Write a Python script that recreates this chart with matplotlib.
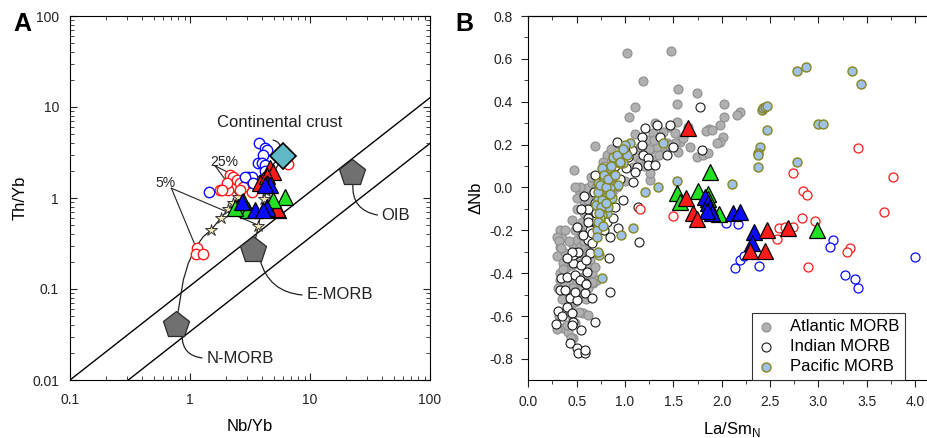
import matplotlib
matplotlib.use("Agg")
import matplotlib.pyplot as plt
from matplotlib.ticker import FuncFormatter, MultipleLocator, NullFormatter

plt.rcParams['font.family'] = ['Liberation Sans', 'DejaVu Sans']
plt.rcParams['axes.unicode_minus'] = False

# ---------------- panel A data (Nb/Yb vs Th/Yb) ----------------
ref_names = ['N-MORB', 'E-MORB', 'OIB']
ref_nb = [0.77, 3.37, 22.2]
ref_th = [0.040, 0.268, 1.87]
cc_nb, cc_th = 6.0, 2.9

a_red_circ_x = [1.14, 1.12, 1.28, 1.78, 2.08, 2.15, 2.3, 2.46, 2.62, 2.02, 2.78, 1.84, 2.62, 3.27, 6.6]
a_red_circ_y = [0.28, 0.24, 0.24, 1.22, 1.22, 1.79, 1.71, 1.58, 1.45, 1.45, 1.33, 1.22, 1.22, 1.17, 2.35]
a_blue_circ_x = [3.76, 4.22, 4.36, 4.08, 3.71, 3.96, 4.22, 3.06, 3.27, 2.87, 1.44, 4.22, 3.37]
a_blue_circ_y = [3.99, 3.52, 3.37, 2.97, 2.40, 2.40, 2.31, 1.71, 1.71, 1.71, 1.17, 1.97, 1.45]
a_red_tri_x = [4.64, 4.95, 4.08, 3.83, 5.44, 5.27, 4.4]
a_red_tri_y = [2.12, 1.94, 1.58, 1.45, 0.74, 0.76, 1.75]
a_green_tri_x = [2.53, 3.06, 6.19, 4.36, 2.37, 2.78, 4.95]
a_green_tri_y = [0.80, 0.74, 1.02, 0.80, 0.77, 0.92, 0.95]
a_blue_tri_x = [4.36, 4.64, 2.7, 3.48, 4.36, 4.22, 4.08]
a_blue_tri_y = [1.45, 1.39, 0.91, 0.74, 0.77, 1.39, 0.74]

# mixing curves towards continental crust
mix1_x = [0.775, 0.826, 0.88, 0.968, 1.10, 1.29, 1.50, 1.80, 2.09, 2.30, 2.53, 3.0, 3.8, 4.8, 6.0]
mix1_y = [0.0456, 0.0757, 0.126, 0.191, 0.28, 0.376, 0.445, 0.60, 0.76, 0.875, 1.02, 1.3, 1.75, 2.3, 2.9]
mix2_x = [3.37, 3.55, 3.71, 3.95, 4.14, 4.3, 4.7, 5.3, 6.0]
mix2_y = [0.268, 0.38, 0.49, 0.75, 0.97, 1.2, 1.6, 2.2, 2.9]
star_x = [1.50, 1.80, 2.09, 2.30, 2.53, 3.71, 4.14, 4.3]
star_y = [0.445, 0.60, 0.76, 0.875, 1.02, 0.49, 0.97, 1.2]

# ---------------- panel B data (La/Sm_N vs delta Nb) ----------------
atl_x = [1.017, 1.472, 1.183, 1.552, 1.741, 1.541, 2.024, 1.103, 1.045, 2.024, 2.19, 2.155, 1.983,
         1.872, 1.838, 1.897, 2.017, 1.983, 1.948, 1.534, 1.466, 1.517, 1.569, 1.672, 1.552, 1.741,
         1.81, 1.862, 1.517, 1.362, 1.397, 1.293, 1.31,
         0.69, 0.472, 0.517, 0.534, 0.552, 0.569, 0.603, 0.655, 0.638, 0.672, 0.328, 0.345, 0.328,
         0.38, 0.397, 0.414, 0.466, 0.5, 0.534, 0.552, 0.586, 0.586, 0.603, 0.638, 0.655, 0.672,
         0.569, 0.517, 0.483, 0.431, 0.362, 0.414, 0.466, 0.569, 0.62, 0.362, 0.31, 0.328, 0.362,
         0.724, 0.69, 0.707, 0.672, 0.707, 0.741, 0.62, 0.552, 0.534, 0.862, 0.914, 0.879, 0.81,
         0.776, 0.983, 1.086, 1.121, 1.19, 1.259, 1.224, 1.155, 1.259, 1.259, 1.293, 1.431, 1.414,
         1.328, 0.672, 0.655, 0.534, 0.45, 0.42, 0.6, 0.64, 0.5, 0.44, 0.56, 0.62, 0.58, 0.7,
         0.30, 0.32, 0.34, 0.30, 0.36, 0.33, 0.38, 0.40, 0.35, 0.42, 0.45, 0.40, 0.48, 0.52, 0.55,
         0.58, 0.60, 0.62, 0.65, 0.58, 0.55, 0.48, 0.45, 0.50, 0.58, 0.62, 0.48, 0.50, 0.65, 0.70,
         0.55, 0.45, 0.42, 0.38, 0.60, 0.32, 0.30, 0.44, 0.46, 0.66,
         0.78, 0.85, 0.90, 0.95, 1.05, 1.15, 1.20, 1.35, 1.45, 1.25, 1.10, 1.30, 1.60, 1.65, 0.88, 1.00]
atl_y = [0.629, 0.637, 0.498, 0.458, 0.439, 0.388, 0.388, 0.377, 0.330, 0.327, 0.354, 0.338, 0.292,
         0.271, 0.264, 0.268, 0.237, 0.214, 0.206, 0.307, 0.284, 0.253, 0.214, 0.19, 0.167, 0.144,
         0.152, 0.159, 0.206, 0.237, 0.261, 0.253, 0.30,
         0.195, 0.08, -0.004, -0.019, -0.043, -0.058, -0.004, 0.02, -0.089, -0.12, -0.198, -0.237, -0.276,
         -0.307, -0.369, -0.338, -0.268, -0.245, -0.276, -0.307, -0.276, -0.338, -0.385, -0.338, -0.40, -0.447,
         -0.416, -0.463, -0.532, -0.587, -0.657, -0.672, -0.703, -0.587, -0.595, -0.493, -0.47, -0.40, -0.354,
         -0.307, -0.369, -0.431, -0.245, -0.183, -0.12, -0.167, -0.159, -0.198, -0.027, 0.004, 0.128, 0.152,
         0.121, 0.144, 0.097, 0.144, 0.159, 0.175, 0.222, 0.19, 0.035, 0.066, 0.128, 0.206, 0.159,
         0.19, -0.027, -0.058, 0.004, -0.36, -0.45, -0.22, -0.26, -0.42, -0.55, -0.50, -0.47, -0.10, -0.05,
         -0.23, -0.25, -0.28, -0.32, -0.38, -0.43, -0.45, -0.50, -0.52, -0.55, -0.60, -0.64, -0.63, -0.58, -0.48,
         -0.42, -0.36, -0.30, -0.25, -0.25, -0.22, -0.20, -0.15, -0.10, -0.12, -0.06, 0.00, -0.05, 0.05, 0.00,
         -0.35, -0.33, -0.25, -0.20, -0.52, -0.60, -0.66, -0.70, -0.47, -0.44,
         0.10, 0.18, 0.05, 0.20, 0.18, 0.12, 0.10, 0.15, 0.20, 0.18, 0.25, 0.22, 0.23, 0.28, 0.00, 0.03]

ind_x = [0.283, 0.31, 0.328, 0.338, 0.397, 0.38, 0.43, 0.397, 0.448, 0.466, 0.448, 0.43, 0.5, 0.517,
         0.586, 0.586, 0.55, 0.5, 0.483, 0.483, 0.466, 0.5, 0.466, 0.517, 0.5, 0.586, 0.586, 0.655,
         0.603, 0.638, 0.62, 0.638, 0.672, 0.69, 0.69, 0.707, 0.62, 0.69, 0.845, 0.838, 0.845, 0.81,
         0.879, 0.931, 0.983, 0.897, 0.81, 0.914, 1.007, 1.034, 1.086, 1.069, 1.12, 1.172, 1.207,
         1.172, 1.19, 1.241, 1.241, 1.31, 1.328, 1.362, 1.431, 1.466, 1.5, 1.138, 1.148, 1.776, 1.793,
         0.55, 0.66, 0.6, 0.57, 0.75, 0.9, 0.95, 1.1, 1.0, 0.78, 0.62, 0.68,
         0.45, 0.55, 0.62, 0.66, 0.58, 0.70, 0.40, 0.53, 0.35, 0.60]
ind_y = [-0.637, -0.575, -0.478, -0.424, -0.419, -0.478, -0.517, -0.556, -0.587, -0.626, -0.64, -0.727,
         -0.75, -0.77, -0.773, -0.758, -0.665, -0.525, -0.486, -0.408, -0.354, -0.307, -0.315, -0.30,
         -0.183, -0.494, -0.447, -0.517, -0.393, -0.307, -0.245, -0.198, -0.151, -0.074, 0.058, -0.206,
         -0.144, -0.626, -0.486, -0.33, -0.229, -0.159, -0.144, -0.19, -0.058, -0.089, -0.058, 0.21,
         0.089, 0.144, 0.027, 0.175, 0.097, 0.237, 0.276, 0.198, 0.152, 0.136, 0.105, 0.105, 0.292,
         0.237, 0.152, 0.292, 0.19, -0.089, -0.253, 0.377, 0.175,
         -0.36, -0.26, -0.34, -0.22, 0.02, 0.1, 0.04, 0.07, 0.17, -0.2, -0.1, -0.02,
         -0.30, -0.10, -0.16, -0.21, -0.04, -0.12, -0.33, -0.43, -0.60, -0.45]

pac_x = [2.776, 2.869, 3.352, 3.438, 2.414, 2.43, 2.445, 2.466, 2.466, 3.0, 3.05, 2.397, 2.37, 2.38,
         2.37, 2.776, 2.103, 1.534, 1.345, 1.207, 1.39, 1.052, 1.0, 1.017, 0.976, 1.086, 0.959, 0.734,
         0.759, 0.714, 0.741, 0.81, 0.948, 0.897, 0.845, 0.759, 0.793, 0.862, 0.724, 0.776, 0.931,
         0.845, 0.741, 0.81, 0.724, 0.862, 0.793, 0.741, 0.828, 0.759, 0.741, 0.724, 0.7, 0.72, 0.9,
         0.72, 0.74, 0.76, 0.78, 0.80, 0.82, 0.84, 0.86, 0.88, 0.90, 0.92, 0.95, 0.98, 0.75, 0.73,
         0.77, 0.71, 0.80]
pac_y = [0.545, 0.564, 0.545, 0.481, 0.362, 0.37, 0.375, 0.38, 0.268, 0.296, 0.296, 0.19, 0.16, 0.15,
         0.097, 0.117, 0.015, 0.03, 0.004, -0.022, 0.206, 0.209, 0.198, 0.152, 0.113, -0.19, -0.221, -0.315,
         -0.424, -0.198, -0.151, -0.12, 0.113, 0.121, 0.089, 0.089, 0.051, 0.051, 0.02, 0.027, 0.012,
         -0.004, -0.019, -0.043, -0.058, -0.05, -0.074, -0.105, -0.089, -0.128, -0.144, -0.159, -0.08, -0.3, 0.14,
         -0.02, 0.01, -0.06, 0.06, 0.00, 0.04, -0.03, 0.10, 0.14, 0.06, 0.15, 0.12, 0.18, -0.09, -0.12,
         -0.18, -0.23, -0.07]

b_red_circ_x = [1.155, 1.5, 2.569, 2.597, 2.655, 2.707, 2.741, 2.828, 2.966, 2.897, 2.741, 2.845, 2.879,
                3.328, 3.3, 3.414, 3.776, 3.683]
b_red_circ_y = [-0.102, -0.133, -0.24, -0.187, -0.183, -0.187, -0.183, -0.141, -0.156, -0.372, 0.066,
                -0.015, -0.035, -0.284, -0.302, 0.183, 0.047, -0.116]
b_blue_circ_x = [2.041, 2.172, 2.138, 2.19, 2.234, 2.39, 3.148, 3.121, 3.276, 3.379, 3.414, 4.0]
b_blue_circ_y = [-0.164, -0.172, -0.374, -0.338, -0.318, -0.366, -0.245, -0.276, -0.41, -0.428, -0.47, -0.326]
b_red_tri_x = [1.648, 1.631, 1.707, 1.741, 2.466, 2.69, 2.293, 2.448]
b_red_tri_y = [0.276, -0.05, -0.117, -0.147, -0.2, -0.187, -0.295, -0.295]
b_green_tri_x = [1.534, 1.569, 1.752, 1.879, 1.862, 1.862, 1.972, 2.983]
b_green_tri_y = [-0.024, -0.066, -0.015, 0.071, -0.03, -0.055, -0.125, -0.198]
b_blue_tri_x = [1.828, 1.862, 1.879, 1.897, 2.121, 2.19, 2.334, 2.31, 1.845]
b_blue_tri_y = [-0.043, -0.074, -0.097, -0.12, -0.12, -0.115, -0.206, -0.257, -0.111]

RED, BLUE, GREEN = '#ff1a1a', '#0a0aff', '#22e022'
INK = '#222222'

fig = plt.figure(figsize=(9.28, 4.38), dpi=100)
axA = fig.add_axes([70 / 928, 58 / 438, 360 / 928, 364 / 438])
axB = fig.add_axes([528.3 / 928, 58 / 438, 406.2 / 928, 364 / 438])

# ---------- panel A ----------
axA.set_xscale('log')
axA.set_yscale('log')
axA.set_xlim(0.1, 100)
axA.set_ylim(0.01, 100)

# MORB-OIB array
for x0 in [0.1, 0.306]:
    axA.plot([x0, 100], [0.01, 0.01 * (100 / x0) ** 1.034], color='black', lw=1.0, zorder=1)

axA.plot(mix1_x, mix1_y, color=INK, lw=0.9, zorder=2)
axA.plot(mix2_x, mix2_y, color=INK, lw=0.9, zorder=2)
# 5% / 25% leaders
axA.plot([0.70, 1.10], [1.28, 0.305], color=INK, lw=0.8, zorder=2)
axA.plot([0.70, 3.75], [1.28, 0.50], color=INK, lw=0.8, zorder=2)
axA.plot([1.62, 2.53], [2.25, 1.02], color=INK, lw=0.8, zorder=2)
axA.plot([1.62, 4.3], [2.25, 1.2], color=INK, lw=0.8, zorder=2)
axA.plot(star_x, star_y, ls='none', marker='*', ms=9, mfc='#efe8b5', mec='#333333', mew=0.7, zorder=3)

axA.plot(a_red_circ_x, a_red_circ_y, ls='none', marker='o', ms=7.5, mfc='white', mec=RED, mew=1.0, zorder=4)
axA.plot(a_blue_circ_x, a_blue_circ_y, ls='none', marker='o', ms=7.5, mfc='white', mec=BLUE, mew=1.0, zorder=4)
tri = dict(ls='none', marker='^', ms=11, mec='black', mew=0.9, zorder=5)
axA.plot(a_red_tri_x, a_red_tri_y, mfc=RED, **tri)
axA.plot(a_green_tri_x, a_green_tri_y, mfc=GREEN, **tri)
axA.plot(a_blue_tri_x, a_blue_tri_y, mfc=BLUE, **tri)

axA.plot(ref_nb, ref_th, ls='none', marker='p', ms=20, mfc='#707070', mec='#2a2a2a', mew=0.9, zorder=6)
axA.plot([cc_nb], [cc_th], ls='none', marker='D', ms=13, mfc='#5fb8c6', mec='black', mew=1.2, zorder=7)

leader = dict(arrowstyle='-', lw=0.9, color=INK, shrinkA=0, shrinkB=0)
axA.annotate('', xy=(36.5, 0.65), xytext=(22.8, 1.46),
             arrowprops=dict(connectionstyle='arc3,rad=0.45', **leader))
axA.annotate('', xy=(8.6, 0.086), xytext=(3.83, 0.21),
             arrowprops=dict(connectionstyle='arc3,rad=0.35', **leader))
axA.annotate('', xy=(1.26, 0.0175), xytext=(0.86, 0.031),
             arrowprops=dict(connectionstyle='arc3,rad=0.45', **leader))
axA.annotate('', xy=(5.73, 3.37), xytext=(4.92, 4.33),
             arrowprops=dict(connectionstyle='arc3,rad=-0.4', **leader))

axA.text(5.62, 6.84, 'Continental crust', fontsize=12, ha='center', va='center', color=INK)
axA.text(39.6, 0.65, 'OIB', fontsize=12, ha='left', va='center', color=INK)
axA.text(9.38, 0.086, 'E-MORB', fontsize=12, ha='left', va='center', color=INK)
axA.text(1.38, 0.0173, 'N-MORB', fontsize=12, ha='left', va='center', color=INK)
axA.text(1.47, 2.5, '25%', fontsize=10, ha='left', va='center', color=INK)
axA.text(0.52, 1.47, '5%', fontsize=10, ha='left', va='center', color=INK)

fmt = FuncFormatter(lambda v, p: '%g' % v)
axA.xaxis.set_major_formatter(fmt)
axA.yaxis.set_major_formatter(fmt)
axA.xaxis.set_minor_formatter(NullFormatter())
axA.yaxis.set_minor_formatter(NullFormatter())
axA.tick_params(which='both', top=True, right=True, direction='in', labelsize=10, colors=INK)
axA.tick_params(which='major', length=5)
axA.tick_params(which='minor', length=3)
axA.tick_params(axis='x', which='major', pad=9)
axA.tick_params(axis='y', which='major', pad=8)
axA.set_xlabel('Nb/Yb', fontsize=12, labelpad=9)
axA.set_ylabel('Th/Yb', fontsize=12, labelpad=3)

# ---------- panel B ----------
axB.scatter(atl_x, atl_y, s=42, c='#b0b0b0', edgecolors='#8e8e8e', linewidths=0.8, zorder=2)
axB.scatter(ind_x, ind_y, s=42, c='white', edgecolors='#1a1a1a', linewidths=0.8, zorder=3)
axB.scatter(pac_x, pac_y, s=42, c='#9ec2ec', edgecolors='#85861c', linewidths=1.0, zorder=4)
axB.scatter(b_red_circ_x, b_red_circ_y, s=42, c='white', edgecolors=RED, linewidths=0.9, zorder=5)
axB.scatter(b_blue_circ_x, b_blue_circ_y, s=42, c='white', edgecolors=BLUE, linewidths=0.9, zorder=5)
axB.plot(b_green_tri_x, b_green_tri_y, mfc=GREEN, **tri)
axB.plot(b_blue_tri_x, b_blue_tri_y, mfc=BLUE, **tri)
axB.plot(b_red_tri_x, b_red_tri_y, mfc=RED, **tri)

axB.set_xlim(0, 4.2)
axB.set_ylim(-0.898, 0.8)
axB.xaxis.set_major_locator(MultipleLocator(0.5))
axB.xaxis.set_minor_locator(MultipleLocator(0.25))
axB.yaxis.set_major_locator(MultipleLocator(0.2))
axB.yaxis.set_minor_locator(MultipleLocator(0.1))
axB.xaxis.set_major_formatter(FuncFormatter(lambda v, p: '%.1f' % v))
axB.yaxis.set_major_formatter(FuncFormatter(lambda v, p: '%.1f' % (0 if abs(v) < 1e-9 else v)))
axB.tick_params(which='both', direction='out', labelsize=10, colors=INK)
axB.tick_params(which='major', length=5)
axB.tick_params(which='minor', length=3)
axB.tick_params(axis='y', which='major', pad=6)
axB.tick_params(axis='x', which='major', pad=6)
axB.spines['right'].set_visible(False)
# inward ticks along the top edge
topB = axB.secondary_xaxis('top')
topB.xaxis.set_major_locator(MultipleLocator(0.5))
topB.xaxis.set_minor_locator(MultipleLocator(0.25))
topB.tick_params(which='both', direction='in', labeltop=False, colors=INK)
topB.tick_params(which='major', length=5)
topB.tick_params(which='minor', length=3)
axB.set_xlabel('La/Sm$_\\mathregular{N}$', fontsize=12, labelpad=8)
axB.set_ylabel('\u0394Nb', fontsize=12, labelpad=4)

h1 = axB.scatter([], [], s=42, c='#b0b0b0', edgecolors='#8e8e8e', linewidths=0.8)
h2 = axB.scatter([], [], s=42, c='white', edgecolors='#1a1a1a', linewidths=0.8)
h3 = axB.scatter([], [], s=42, c='#9ec2ec', edgecolors='#85861c', linewidths=1.0)
leg = axB.legend([h1, h2, h3], ['Atlantic MORB', 'Indian MORB', 'Pacific MORB'],
                 loc='lower left', bbox_to_anchor=(0.551, 0.0), fontsize=12, frameon=True,
                 fancybox=False, framealpha=1, edgecolor='#333333', borderaxespad=0,
                 handlelength=1.0, handletextpad=0.9, labelspacing=0.3, borderpad=0.35,
                 scatterpoints=1)
leg.get_frame().set_linewidth(0.8)
leg.set_zorder(10)

fig.text(13 / 928, 1 - 24 / 438, 'A', fontsize=18, fontweight='bold', ha='left', va='center')
fig.text(455 / 928, 1 - 24 / 438, 'B', fontsize=18, fontweight='bold', ha='left', va='center')

fig.savefig('out.png', dpi=100)
